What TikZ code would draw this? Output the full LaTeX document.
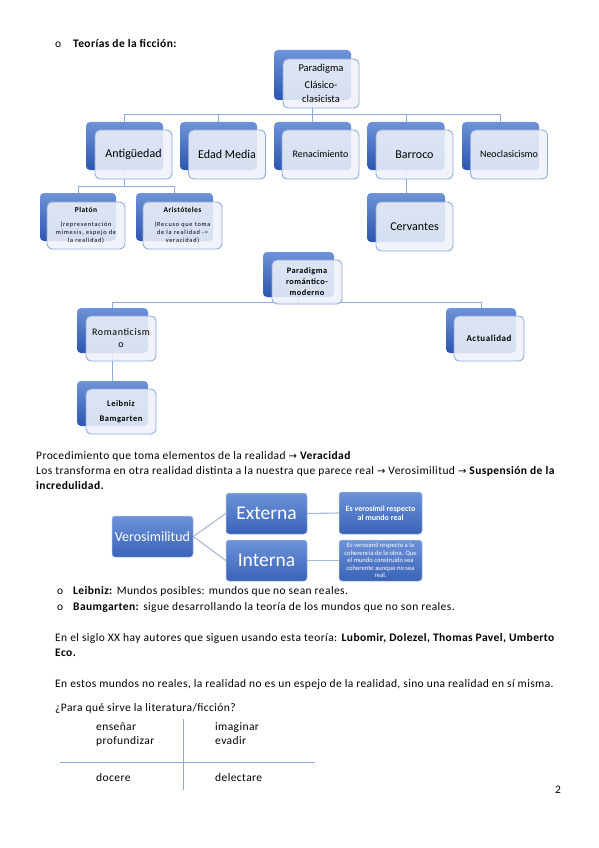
\documentclass[tikz,border=0pt]{standalone}
\usepackage{fontspec}
\setmainfont{Carlito}
\newfontfamily\bodyfont{Carlito}[LetterSpace=3.5]
\newfontfamily\spfont{Carlito}[LetterSpace=12]
\newfontfamily\spmfont{Carlito}[LetterSpace=6]
\newfontfamily\arrowfont{DejaVu Sans}
\definecolor{backtop}{HTML}{6E93D8}
\definecolor{backbot}{HTML}{2B55B0}
\definecolor{frontfill}{HTML}{EEF2FA}
\definecolor{frontline}{HTML}{8FAADC}
\definecolor{connc}{HTML}{8FAADC}
\definecolor{vtop}{HTML}{6C92D8}
\definecolor{vbot}{HTML}{3A63B8}
\definecolor{vedge}{HTML}{A9BFE6}
\definecolor{vline}{HTML}{A9B9D8}
\definecolor{tabline}{HTML}{8EAADB}
\pgfdeclarelayer{paper}
\pgfdeclarelayer{bg}
\pgfsetlayers{paper,bg,main}
\newcommand\fsz[2]{\fontsize{#1}{#2}\selectfont}
\newcommand\arr{{\arrowfont\fsz{10}{12}→}}
\tikzset{
  back/.style={rectangle, rounded corners=4pt, inner sep=0pt, top color=backtop, bottom color=backbot, draw=none},
  front/.style={rectangle, rounded corners=5pt, inner sep=0pt, draw=frontline, line width=0.9pt, fill=frontfill, fill opacity=0.88, text opacity=1, align=center, text=black},
  conn/.style={draw=connc, line width=1pt},
  vbox/.style={rectangle, rounded corners=3pt, inner sep=0pt, top color=vtop, bottom color=vbot, draw=vedge, line width=0.5pt, text=white, align=center},
  vconn/.style={draw=vline, line width=1.1pt},
  txt/.style={anchor=base west, inner sep=0pt, font=\bodyfont\fsz{11.5}{14}},
  tline/.style={draw=tabline, line width=0.8pt},
}
\begin{document}
\begin{tikzpicture}[x=1pt,y=-1pt]
\begin{pgfonlayer}{paper}
\fill[white] (0,0) rectangle (599,848);
\end{pgfonlayer}
\useasboundingbox (0,0) rectangle (599,848);

% ---------- Paradigma clasico ----------
\node[back, minimum width=77pt, minimum height=50pt] (top) at (312.5,75) {};
\node[front, minimum width=76pt, minimum height=49pt, font=\fsz{10.5}{14}] (topf) at (321,83.5) {Paradigma\\[3pt]Clásico-\\clasicista};

\node[back, minimum width=77pt, minimum height=48pt] (ant) at (124.5,146) {};
\node[front, minimum width=77pt, minimum height=49pt, font=\fsz{12}{14}] (antf) at (133.5,154.5) {Antigüedad};
\node[back, minimum width=77pt, minimum height=48pt] (edad) at (218.5,146) {};
\node[front, minimum width=77pt, minimum height=49pt, font=\fsz{12}{14}] (edadf) at (227,154.5) {Edad Media};
\node[back, minimum width=77pt, minimum height=48pt] (ren) at (312.5,146) {};
\node[front, minimum width=77pt, minimum height=49pt, font=\fsz{10}{12}] (renf) at (320.5,154.5) {Renacimiento};
\node[back, minimum width=77pt, minimum height=48pt] (bar) at (406,146) {};
\node[front, minimum width=77pt, minimum height=49pt, font=\fsz{12}{14}] (barf) at (414.5,154.5) {Barroco};
\node[back, minimum width=77pt, minimum height=48pt] (neo) at (500.5,146) {};
\node[front, minimum width=77pt, minimum height=49pt, font=\fsz{10}{12}] (neof) at (509,154.5) {Neoclasicismo};

\node[back, minimum width=76pt, minimum height=48pt] (plat) at (78,217) {};
\node[front, minimum width=78pt, minimum height=47pt, font=\spfont\fsz{6.3}{8}] (platf) at (86,225.5)
  {{\spmfont\fsz{7.5}{8}\bfseries Platón}\\[6pt](representación\\mimesis, espejo de\\la realidad)};
\node[back, minimum width=77pt, minimum height=48pt] (arist) at (174.5,217) {};
\node[front, minimum width=79pt, minimum height=47pt, font=\spfont\fsz{6.3}{8}] (aristf) at (182.5,225.5)
  {{\spmfont\fsz{7.5}{8}\bfseries Aristóteles}\\[6pt](Recuso que toma\\de la realidad ->\\veracidad)};
\node[back, minimum width=78pt, minimum height=49pt] (cerv) at (406,217.5) {};
\node[front, minimum width=77pt, minimum height=49pt, font=\fsz{12}{14}] (cervf) at (414.5,226.5) {Cervantes};

% ---------- Paradigma romantico ----------
\node[back, minimum width=71pt, minimum height=45pt] (romm) at (298.5,274.5) {};
\node[front, minimum width=70pt, minimum height=44pt, font=\spmfont\fsz{8.3}{11}\bfseries] (rommf) at (307,282) {Paradigma\\romántico-\\moderno};
\node[back, minimum width=71pt, minimum height=45pt] (rom) at (112.5,330.5) {};
\node[front, minimum width=70pt, minimum height=45pt, font=\spmfont\fsz{10}{12}] (romf) at (121,338.5) {Romanticism\\o};
\node[back, minimum width=70pt, minimum height=45pt] (act) at (481,330.5) {};
\node[front, minimum width=70pt, minimum height=45pt, font=\spmfont\fsz{9}{11}\bfseries] (actf) at (489,338.5) {Actualidad};
\node[back, minimum width=71pt, minimum height=45pt] (leib) at (112.5,403.5) {};
\node[front, minimum width=70pt, minimum height=45pt, font=\spmfont\fsz{8.5}{15}\bfseries] (leibf) at (121,411.5) {Leibniz\\Bamgarten};

\coordinate (bus1) at (0,115);
\coordinate (bus2) at (0,186);
\coordinate (bus3) at (0,302);
\begin{pgfonlayer}{bg}
  \foreach \c in {ant,edad,ren,bar,neo}{
    \draw[conn] (top.center) -- (top.center |- bus1) -| (\c.center);
  }
  \foreach \c in {plat,arist}{
    \draw[conn] (ant.center) -- (ant.center |- bus2) -| (\c.center);
  }
  \draw[conn] (bar.center) -- (cerv.center);
  \foreach \c in {rom,act}{
    \draw[conn] (romm.center) -- (romm.center |- bus3) -| (\c.center);
  }
  \draw[conn] (rom.center) -- (leib.center);
\end{pgfonlayer}

% ---------- texts ----------
\node[txt] (b0) at (55,48) {o};
\node[txt] (t0) at (73,48) {\textbf{Teorías de la ficción:}};

\node[txt] (p1) at (36,459) {Procedimiento que toma elementos de la realidad \arr{} \textbf{Veracidad}};
\node[txt] (p2) at (36,474) {Los transforma en otra realidad distinta a la nuestra que parece real \arr{} Verosimilitud \arr{} \textbf{Suspensión de la}};
\node[txt] (p3) at (36,489) {\textbf{incredulidad.}};

% ---------- Verosimilitud ----------
\node[vbox, minimum width=81pt, minimum height=41pt, font=\fsz{14}{16}] (vero) at (152.5,536.5) {Verosimilitud};
\node[vbox, minimum width=81pt, minimum height=41pt, font=\fsz{19.5}{22}] (ext) at (266.5,513.5) {Externa};
\node[vbox, minimum width=81pt, minimum height=41pt, font=\fsz{19.5}{22}] (int) at (266.5,560.5) {Interna};
\node[vbox, minimum width=83pt, minimum height=42pt, font=\fsz{8}{9.5}\bfseries] (r1) at (380.5,513) {Es verosímil respecto\\al mundo real};
\node[vbox, minimum width=83pt, minimum height=41pt, font=\fsz{6.6}{7.6}] (r2) at (380.5,560.5) {Es verosímil respecto a la\\coherencia de la obra. Que\\el mundo construido sea\\coherente aunque no sea\\real.};
\begin{pgfonlayer}{bg}
  \draw[vconn] (vero.east) -- (ext.west);
  \draw[vconn] (vero.east) -- (int.west);
  \draw[vconn] (ext.east) -- (r1.west);
  \draw[vconn] (int.east) -- (r2.west);
\end{pgfonlayer}

\node[txt] (b1) at (57,594) {o};
\node[txt] (l1) at (73,594) {\textbf{Leibniz:} Mundos posibles: mundos que no sean reales.};
\node[txt] (b2) at (57,610) {o};
\node[txt] (l2) at (73,610) {\textbf{Baumgarten:} sigue desarrollando la teoría de los mundos que no son reales.};
\node[txt] (s1) at (55,641) {En el siglo XX hay autores que siguen usando esta teoría: \textbf{Lubomir, Dolezel, Thomas Pavel, Umberto}};
\node[txt] (s2) at (55,656) {\textbf{Eco.}};
\node[txt] (s3) at (55,687) {En estos mundos no reales, la realidad no es un espejo de la realidad, sino una realidad en sí misma.};
\node[txt] (q) at (55,711) {¿Para qué sirve la literatura/ficción?};

% ---------- table ----------
\node[txt] (c11) at (96,730) {enseñar};
\node[txt] (c12) at (215,730) {imaginar};
\node[txt] (c21) at (96,744) {profundizar};
\node[txt] (c22) at (215,744) {evadir};
\node[txt] (c31) at (96,781) {docere};
\node[txt] (c32) at (215,781) {delectare};
\coordinate (hl) at (60,762);
\coordinate (hr) at (315,762);
\coordinate (vt) at (183,719);
\coordinate (vb) at (183,790);
\draw[tline] (hl) -- (hr);
\draw[tline] (vt) -- (vb);

\node[txt] (pg) at (555,793) {2};
\end{tikzpicture}
\end{document}
